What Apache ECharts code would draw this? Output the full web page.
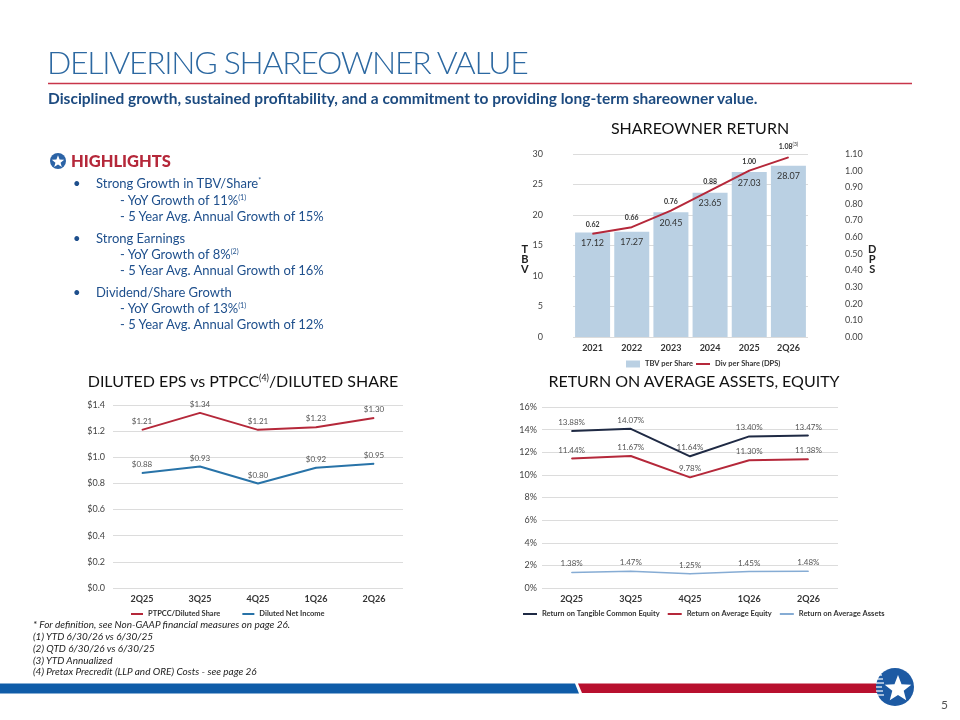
<!DOCTYPE html>
<html>
<head>
<meta charset="utf-8">
<script src="https://cdn.jsdelivr.net/npm/echarts/dist/echarts.min.js"></script>
<style>
  body { margin: 0; background: #fff; }
  #page { position: relative; width: 960px; height: 720px; overflow: hidden; font-family: Lato, "Noto Sans", sans-serif; }
  #chart { position: absolute; left: 0; top: 0; width: 960px; height: 720px; }
  .t { position: absolute; white-space: nowrap; z-index: 2; pointer-events: none; }
  .t sup { font-size: 0.55em; vertical-align: 0.7em; line-height: 0; }
  .hl { color: #1e4f8c; font-size: 13px; line-height: 16px; }
  .foot { color: #222; font-size: 10px; font-style: italic; line-height: 11.7px; }
  .ctitle { color: #111; font-size: 16px; line-height: 18px; transform: translateX(-50%); }
  .axname { color: #222; font-size: 11px; font-weight: bold; line-height: 10px; text-align: center; }
</style>
</head>
<body>
<div id="page">
  <div id="chart"></div>

  <div class="t" style="left:47px;top:44px;font-size:32px;font-weight:300;color:#2c68a1;letter-spacing:-1.3px;line-height:36px">DELIVERING SHAREOWNER VALUE</div>
  <div class="t" style="left:48px;top:88px;font-size:15.5px;font-weight:bold;color:#1d4b80;line-height:20px">Disciplined growth, sustained profitability, and a commitment to providing long-term shareowner value.</div>

  <div class="t" style="left:71px;top:151px;font-size:16.5px;font-weight:900;color:#b5283a;line-height:20px">HIGHLIGHTS</div>
  <div class="t hl" style="left:73px;top:175px">•</div>
  <div class="t hl" style="left:96px;top:175px">Strong Growth in TBV/Share<sup>*</sup></div>
  <div class="t hl" style="left:120px;top:192px">- YoY Growth of 11%<sup>(1)</sup></div>
  <div class="t hl" style="left:120px;top:208px">- 5 Year Avg. Annual Growth of 15%</div>
  <div class="t hl" style="left:73px;top:230px">•</div>
  <div class="t hl" style="left:96px;top:230px">Strong Earnings</div>
  <div class="t hl" style="left:120px;top:246px">- YoY Growth of 8%<sup>(2)</sup></div>
  <div class="t hl" style="left:120px;top:262px">- 5 Year Avg. Annual Growth of 16%</div>
  <div class="t hl" style="left:73px;top:284px">•</div>
  <div class="t hl" style="left:96px;top:284px">Dividend/Share Growth</div>
  <div class="t hl" style="left:120px;top:300px">- YoY Growth of 13%<sup>(1)</sup></div>
  <div class="t hl" style="left:120px;top:316px">- 5 Year Avg. Annual Growth of 12%</div>

  <div class="t ctitle" style="left:700px;top:119px">SHAREOWNER RETURN</div>
  <div class="t ctitle" style="left:243px;top:372px">DILUTED EPS vs PTPCC<sup>(4)</sup>/DILUTED SHARE</div>
  <div class="t ctitle" style="left:694px;top:372px">RETURN ON AVERAGE ASSETS, EQUITY</div>

  <div class="t axname" style="left:521px;top:244px">T<br>B<br>V</div>
  <div class="t axname" style="left:868px;top:244px">D<br>P<br>S</div>

  <div class="t foot" style="left:33px;top:619px">* For definition, see Non-GAAP financial measures on page 26.</div>
  <div class="t foot" style="left:33px;top:631px">(1) YTD 6/30/26 vs 6/30/25</div>
  <div class="t foot" style="left:33px;top:643px">(2) QTD 6/30/26 vs 6/30/25</div>
  <div class="t foot" style="left:33px;top:655px">(3) YTD Annualized</div>
  <div class="t foot" style="left:33px;top:666px">(4) Pretax Precredit (LLP and ORE) Costs - see page 26</div>

  <div class="t" style="left:941px;top:697px;font-size:12px;color:#555;line-height:16px">5</div>
</div>

<script>
// shareowner return
const years = ['2021', '2022', '2023', '2024', '2025', '2Q26'];
const tbvPerShare = [17.12, 17.27, 20.45, 23.65, 27.03, 28.07];
const divPerShare = [0.62, 0.66, 0.76, 0.88, 1.00, 1.08];
const divNotes = ['', '', '', '', '', '(3)'];

// diluted eps vs ptpcc
const quarters = ['2Q25', '3Q25', '4Q25', '1Q26', '2Q26'];
const ptpccPerShare = [1.21, 1.34, 1.21, 1.23, 1.30];
const dilutedNetIncome = [0.88, 0.93, 0.80, 0.92, 0.95];

// return on average assets, equity
const rotce = [13.88, 14.07, 11.64, 13.40, 13.47];
const roae = [11.44, 11.67, 9.78, 11.30, 11.38];
const roaa = [1.38, 1.47, 1.25, 1.45, 1.48];

const RED = '#b5283a';
const GRID_LINE = '#dcdcdc';

const chart = echarts.init(document.getElementById('chart'));

function catAxis(gridIndex, data) {
  return {
    type: 'category', gridIndex: gridIndex, data: data,
    axisLine: { show: false }, axisTick: { show: false },
    axisLabel: { fontWeight: 'bold', fontSize: 9, color: '#333', margin: 7 }
  };
}

function valAxis(gridIndex, min, max, interval, fmt, margin) {
  return {
    type: 'value', gridIndex: gridIndex, min: min, max: max, interval: interval,
    axisLine: { show: false }, axisTick: { show: false },
    splitLine: { lineStyle: { color: GRID_LINE, width: 1 } },
    axisLabel: { fontSize: 9, color: '#444', margin: margin, formatter: fmt }
  };
}

function lineSeries(name, data, color, xi, yi, fmt, width) {
  return {
    name: name, type: 'line', data: data,
    xAxisIndex: xi, yAxisIndex: yi,
    symbol: 'circle', symbolSize: 1,
    lineStyle: { color: color, width: width || 2 },
    itemStyle: { color: color },
    label: { show: true, position: 'top', distance: 4, fontSize: 8, color: '#555', formatter: fmt }
  };
}

// star in a circle, used for the logo and the highlights bullet
function starPoints(cx, cy, ro, ri) {
  const pts = [];
  for (let i = 0; i < 10; i++) {
    const r = i % 2 ? ri : ro;
    const a = -Math.PI / 2 + i * Math.PI / 5;
    pts.push([cx + r * Math.cos(a), cy + r * Math.sin(a)]);
  }
  return pts;
}

const decor = [
  // bottom stripes
  { type: 'polygon', shape: { points: [[0, 683.5], [575, 683.5], [579, 693.5], [0, 693.5]] }, style: { fill: '#0f5ca8' } },
  { type: 'polygon', shape: { points: [[578, 683.5], [880, 683.5], [880, 693], [582, 693]] }, style: { fill: '#b8102e' } },
  // title rule
  { type: 'line', shape: { x1: 48, y1: 83.5, x2: 912, y2: 83.5 }, style: { stroke: '#c8354a', lineWidth: 1.5 } },
  // logo
  { type: 'circle', shape: { cx: 895, cy: 687, r: 19 }, style: { fill: '#1d5aa3' } },
  { type: 'polygon', shape: { points: starPoints(898, 689, 14, 6) }, style: { fill: '#fff' } },
  // highlights icon
  { type: 'circle', shape: { cx: 58, cy: 161, r: 8 }, style: { fill: '#2b63a6' } },
  { type: 'polygon', shape: { points: starPoints(58, 161.8, 6.5, 2.7) }, style: { fill: '#fff' } }
];
// speed lines on the logo
[-12, -8, -4, 0, 4, 8].forEach(function (dy, i) {
  decor.push({ type: 'line', shape: { x1: 876, y1: 687 + dy, x2: 882 + (i % 3), y2: 687 + dy },
    style: { stroke: '#fff', lineWidth: 1.2 } });
});

const option = {
  animation: false,
  textStyle: { fontFamily: 'Lato, "Noto Sans", sans-serif' },
  grid: [
    { left: 573, top: 154, width: 235, height: 183 },
    { left: 113, top: 405, width: 290, height: 183 },
    { left: 542, top: 407, width: 296, height: 181 }
  ],
  xAxis: [catAxis(0, years), catAxis(1, quarters), catAxis(2, quarters)],
  yAxis: [
    valAxis(0, 0, 30, 5, null, 30),
    Object.assign(valAxis(0, 0, 1.1, 0.1, function (v) { return v.toFixed(2); }, 37),
      { position: 'right', splitLine: { show: false } }),
    valAxis(1, 0, 1.4, 0.2, function (v) { return '$' + v.toFixed(1); }, 8),
    valAxis(2, 0, 16, 2, function (v) { return v + '%'; }, 5)
  ],
  legend: [
    { left: 621, top: 355, itemWidth: 14, itemHeight: 7, icon: 'rect', data: ['TBV per Share'],
      textStyle: { fontSize: 7.5, fontWeight: 'bold', color: '#333' } },
    { left: 691, top: 355, itemWidth: 14, itemHeight: 2, icon: 'rect', data: ['Div per Share (DPS)'],
      textStyle: { fontSize: 7.5, fontWeight: 'bold', color: '#333' } },
    { left: 126, top: 605, itemWidth: 12, itemHeight: 2, icon: 'rect', itemGap: 22,
      data: ['PTPCC/Diluted Share', 'Diluted Net Income'],
      textStyle: { fontSize: 7.5, fontWeight: 'bold', color: '#333' } },
    { left: 518, top: 605, itemWidth: 14, itemHeight: 2, icon: 'rect', itemGap: 8,
      data: ['Return on Tangible Common Equity', 'Return on Average Equity', 'Return on Average Assets'],
      textStyle: { fontSize: 7.5, fontWeight: 'bold', color: '#333' } }
  ],
  graphic: decor,
  series: [
    {
      name: 'TBV per Share', type: 'bar', data: tbvPerShare,
      xAxisIndex: 0, yAxisIndex: 0, barWidth: 35,
      itemStyle: { color: '#bad0e3' },
      label: { show: true, position: 'insideTop', distance: 6, fontSize: 9, color: '#333',
        formatter: function (p) { return p.value.toFixed(2); } }
    },
    lineSeries('Div per Share (DPS)', divPerShare, RED, 0, 1, function (p) {
      const note = divNotes[p.dataIndex];
      return '{v|' + p.value.toFixed(2) + '}' + (note ? '{s|' + note + '}' : '');
    }),
    lineSeries('PTPCC/Diluted Share', ptpccPerShare, RED, 1, 2, function (p) { return '$' + p.value.toFixed(2); }),
    lineSeries('Diluted Net Income', dilutedNetIncome, '#2873a8', 1, 2, function (p) { return '$' + p.value.toFixed(2); }),
    lineSeries('Return on Tangible Common Equity', rotce, '#1f2a44', 2, 3, function (p) { return p.value.toFixed(2) + '%'; }),
    lineSeries('Return on Average Equity', roae, RED, 2, 3, function (p) { return p.value.toFixed(2) + '%'; }),
    lineSeries('Return on Average Assets', roaa, '#86acd4', 2, 3, function (p) { return p.value.toFixed(2) + '%'; }, 1.5)
  ]
};

// DPS labels are smaller and bold, with a superscript note
option.series[1].label = {
  show: true, position: 'top', distance: 5, color: '#333',
  formatter: option.series[1].label.formatter,
  rich: {
    v: { fontSize: 7, fontWeight: 'bold', color: '#333' },
    s: { fontSize: 5, color: '#333', verticalAlign: 'top', padding: [0, 0, 5, 0] }
  }
};

chart.setOption(option);
</script>
</body>
</html>
